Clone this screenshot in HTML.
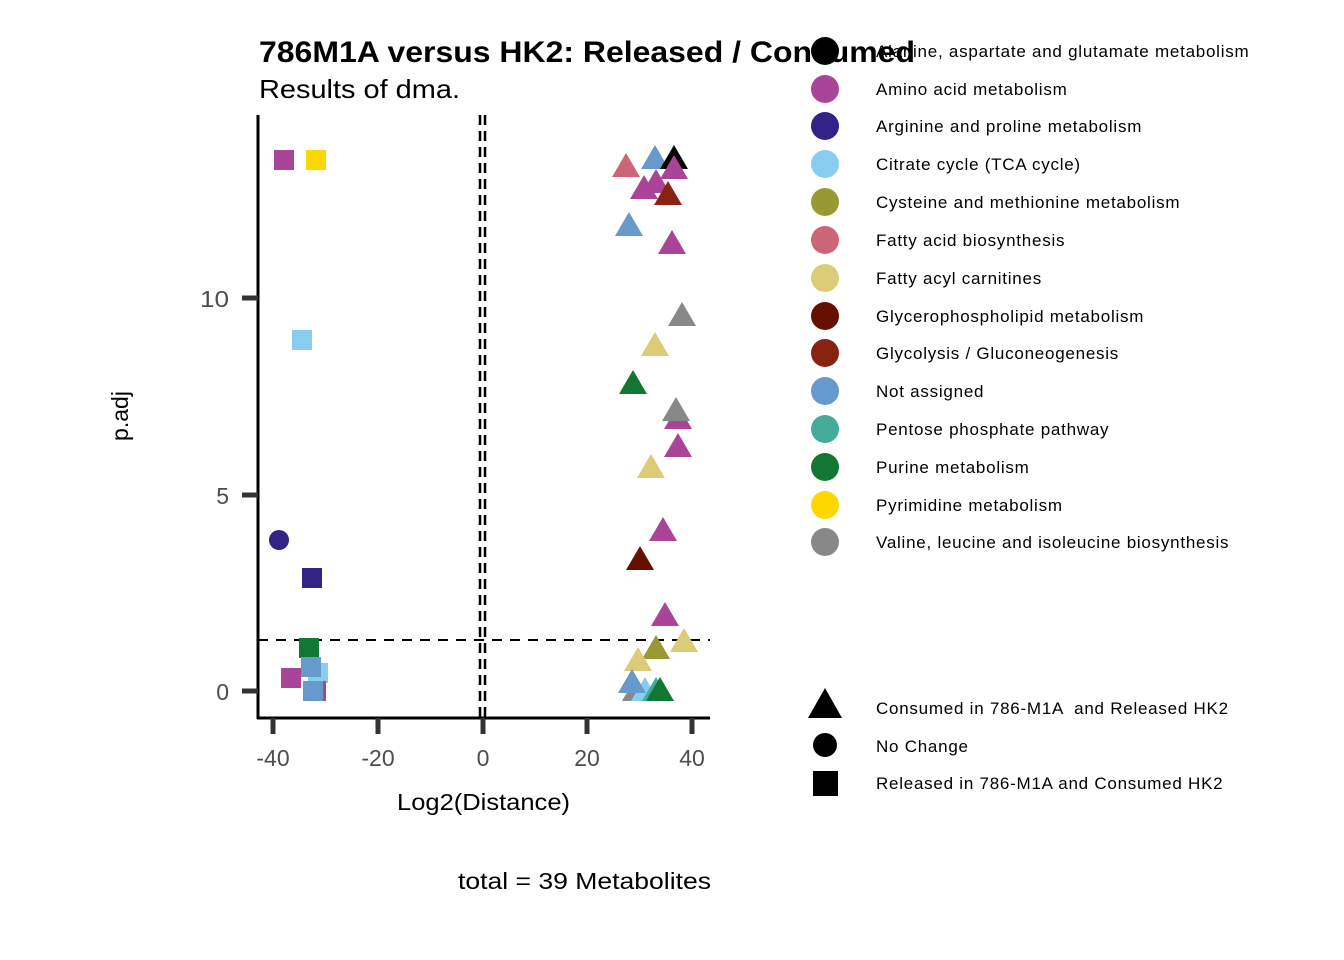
<!DOCTYPE html>
<html><head><meta charset="utf-8"><style>body{margin:0;background:#fff}svg{display:block}text{font-family:"Liberation Sans",sans-serif}</style></head><body>
<svg width="1344" height="960" xmlns="http://www.w3.org/2000/svg">
<defs>
<symbol id="t" viewBox="-14 -13 28 24" overflow="visible"><polygon points="-14,11 14,11 0,-13"/></symbol>
</defs>
<rect width="1344" height="960" fill="#fff"/>
<line x1="480" y1="115" x2="480" y2="718" stroke="#000" stroke-width="2.5" stroke-dasharray="10,6"/>
<line x1="485" y1="115" x2="485" y2="718" stroke="#000" stroke-width="2.5" stroke-dasharray="10,6"/>
<line x1="258" y1="640" x2="710" y2="640" stroke="#000" stroke-width="2" stroke-dasharray="10,8"/>
<line x1="258" y1="115" x2="258" y2="719" stroke="#000" stroke-width="3"/>
<line x1="257" y1="718" x2="710" y2="718" stroke="#000" stroke-width="3"/>
<g stroke="#333" stroke-width="5">
<line x1="242" y1="298" x2="258" y2="298"/><line x1="242" y1="495" x2="258" y2="495"/><line x1="242" y1="691" x2="258" y2="691"/>
<line x1="273" y1="718" x2="273" y2="734"/><line x1="378" y1="718" x2="378" y2="734"/><line x1="483" y1="718" x2="483" y2="734"/><line x1="587" y1="718" x2="587" y2="734"/><line x1="692" y1="718" x2="692" y2="734"/>
</g>
<g fill="#4d4d4d" font-size="23">
<text x="229" y="307" text-anchor="end" textLength="29" lengthAdjust="spacingAndGlyphs">10</text><text x="229" y="504" text-anchor="end">5</text><text x="229" y="700" text-anchor="end">0</text>
<g text-anchor="middle"><text x="273" y="766">-40</text><text x="378" y="766">-20</text><text x="483" y="766">0</text><text x="587" y="766">20</text><text x="692" y="766">40</text></g>
</g>
<text x="397" y="810" font-size="23" textLength="173" lengthAdjust="spacingAndGlyphs">Log2(Distance)</text>
<text x="128" y="416" font-size="23" text-anchor="middle" transform="rotate(-90 128 416)">p.adj</text>
<text x="458" y="889" font-size="23" textLength="253" lengthAdjust="spacingAndGlyphs">total = 39 Metabolites</text>
<g>
<rect x="274" y="150" width="20" height="20" fill="#AA4499"/>
<rect x="306" y="150" width="20" height="20" fill="#FFD700"/>
<rect x="292" y="330" width="20" height="20" fill="#88CCEE"/>
<rect x="302" y="568" width="20" height="20" fill="#332288"/>
<rect x="299" y="638" width="20" height="20" fill="#117733"/>
<rect x="308" y="663" width="20" height="20" fill="#88CCEE"/>
<rect x="301" y="657" width="20" height="20" fill="#6699CC"/>
<rect x="281" y="668" width="20" height="20" fill="#AA4499"/>
<rect x="306" y="681" width="20" height="20" fill="#AA4499"/>
<rect x="303" y="681" width="20" height="20" fill="#6699CC"/>
</g>
<circle cx="279" cy="540" r="10" fill="#332288"/>
<g>
<use href="#t" x="612" y="153" width="28" height="24" fill="#CC6677"/>
<use href="#t" x="641" y="145" width="28" height="24" fill="#6699CC"/>
<use href="#t" x="660" y="145" width="28" height="24" fill="#000"/>
<use href="#t" x="660" y="155" width="28" height="24" fill="#AA4499"/>
<use href="#t" x="642" y="169" width="28" height="24" fill="#AA4499"/>
<use href="#t" x="630" y="175" width="28" height="24" fill="#AA4499"/>
<use href="#t" x="654" y="181" width="28" height="24" fill="#882211"/>
<use href="#t" x="615" y="212" width="28" height="24" fill="#6699CC"/>
<use href="#t" x="658" y="230" width="28" height="24" fill="#AA4499"/>
<use href="#t" x="668" y="302" width="28" height="24" fill="#888888"/>
<use href="#t" x="641" y="332" width="28" height="24" fill="#DDCC77"/>
<use href="#t" x="619" y="370" width="28" height="24" fill="#117733"/>
<use href="#t" x="664" y="405" width="28" height="24" fill="#AA4499"/>
<use href="#t" x="662" y="397" width="28" height="24" fill="#888888"/>
<use href="#t" x="664" y="433" width="28" height="24" fill="#AA4499"/>
<use href="#t" x="637" y="454" width="28" height="24" fill="#DDCC77"/>
<use href="#t" x="649" y="517" width="28" height="24" fill="#AA4499"/>
<use href="#t" x="626" y="546" width="28" height="24" fill="#661100"/>
<use href="#t" x="651" y="602" width="28" height="24" fill="#AA4499"/>
<use href="#t" x="642" y="635" width="28" height="24" fill="#999933"/>
<use href="#t" x="670" y="628" width="28" height="24" fill="#DDCC77"/>
<use href="#t" x="624" y="647" width="28" height="24" fill="#DDCC77"/>
<use href="#t" x="622" y="677" width="28" height="24" fill="#888888"/>
<use href="#t" x="631" y="677" width="28" height="24" fill="#88CCEE"/>
<use href="#t" x="618" y="669" width="28" height="24" fill="#6699CC"/>
<use href="#t" x="642" y="677" width="28" height="24" fill="#44AA99"/>
<use href="#t" x="646" y="677" width="28" height="24" fill="#117733"/>
</g>
<text x="259" y="62" font-size="30" font-weight="bold" textLength="656" lengthAdjust="spacingAndGlyphs">786M1A versus HK2: Released / Consumed</text>
<text x="259" y="98" font-size="26" textLength="201" lengthAdjust="spacingAndGlyphs">Results of dma.</text>
<g font-size="17" fill="#000" letter-spacing="0.75">
<circle cx="825" cy="51" r="14" fill="#000"/><text x="876" y="57">Alanine, aspartate and glutamate metabolism</text>
<circle cx="825" cy="89" r="14" fill="#AA4499"/><text x="876" y="95">Amino acid metabolism</text>
<circle cx="825" cy="126" r="14" fill="#332288"/><text x="876" y="132">Arginine and proline metabolism</text>
<circle cx="825" cy="164" r="14" fill="#88CCEE"/><text x="876" y="170">Citrate cycle (TCA cycle)</text>
<circle cx="825" cy="202" r="14" fill="#999933"/><text x="876" y="208">Cysteine and methionine metabolism</text>
<circle cx="825" cy="240" r="14" fill="#CC6677"/><text x="876" y="246">Fatty acid biosynthesis</text>
<circle cx="825" cy="278" r="14" fill="#DDCC77"/><text x="876" y="284">Fatty acyl carnitines</text>
<circle cx="825" cy="316" r="14" fill="#661100"/><text x="876" y="322">Glycerophospholipid metabolism</text>
<circle cx="825" cy="353" r="14" fill="#882211"/><text x="876" y="359">Glycolysis / Gluconeogenesis</text>
<circle cx="825" cy="391" r="14" fill="#6699CC"/><text x="876" y="397">Not assigned</text>
<circle cx="825" cy="429" r="14" fill="#44AA99"/><text x="876" y="435">Pentose phosphate pathway</text>
<circle cx="825" cy="467" r="14" fill="#117733"/><text x="876" y="473">Purine metabolism</text>
<circle cx="825" cy="505" r="14" fill="#FFD700"/><text x="876" y="511">Pyrimidine metabolism</text>
<circle cx="825" cy="542" r="14" fill="#888888"/><text x="876" y="548">Valine, leucine and isoleucine biosynthesis</text>
<polygon points="808,718 842,718 825,688" fill="#000"/><text x="876" y="714" xml:space="preserve">Consumed in 786-M1A  and Released HK2</text>
<circle cx="825" cy="745" r="12" fill="#000"/><text x="876" y="752">No Change</text>
<rect x="813" y="771" width="25" height="25" fill="#000"/><text x="876" y="789">Released in 786-M1A and Consumed HK2</text>
</g>
</svg>
</body></html>
